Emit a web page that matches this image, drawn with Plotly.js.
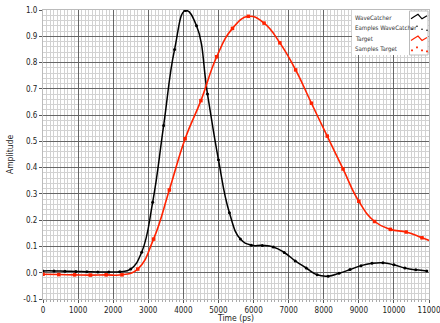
<!DOCTYPE html>
<html><head><meta charset="utf-8">
<script src="https://cdn.plot.ly/plotly-3.0.1.min.js"></script>
<style>html,body{margin:0;padding:0;background:#fff}#chart{width:440px;height:323px}</style>
</head><body><div id="chart"></div>
<script>
// WaveCatcher samples (ps, amplitude)
const wcTime = [0,312.5,625,937.5,1250,1562.5,1875,2187.5,2500,2812.5,3125,3437.5,3750,4062.5,4375,4687.5,5000,5312.5,5625,5937.5,6250,6562.5,6875,7187.5,7500,7812.5,8125,8437.5,8750,9062.5,9375,9687.5,10000,10312.5,10625,10937.5];
const wcAmp  = [0.007,0.007,0.006,0.005,0.004,0.003,0.003,0.004,0.014,0.078,0.268,0.56,0.85,0.998,0.94,0.68,0.43,0.228,0.128,0.105,0.104,0.098,0.077,0.045,0.018,-0.008,-0.013,-0.002,0.012,0.027,0.036,0.038,0.030,0.018,0.011,0.007];
// Target samples (ps, amplitude)
const tgTime = [0,450,900,1350,1800,2250,2700,3150,3600,4050,4500,4950,5400,5850,6300,6750,7200,7650,8100,8550,9000,9450,9900,10350,10800];
const tgAmp  = [-0.006,-0.007,-0.008,-0.009,-0.008,-0.008,0.014,0.128,0.315,0.51,0.655,0.822,0.93,0.976,0.95,0.875,0.772,0.645,0.52,0.395,0.272,0.195,0.165,0.155,0.133];
// end of the Target line at the right edge
const tgTailTime = [11000];
const tgTailAmp = [0.123];
// axis ticks
const xTicks = [0,1000,2000,3000,4000,5000,6000,7000,8000,9000,10000,11000];
const yTicks = [-0.1,0,0.1,0.2,0.3,0.4,0.5,0.6,0.7,0.8,0.9,1.0];
const legendNames = ['WaveCatcher','Eamples WaveCatcher','Target','Samples Target'];

const FONT = 'DejaVu Sans Condensed, DejaVu Sans, sans-serif';
const W = 440, H = 323, ML = 43, MR = 11, MT = 10, MB = 24;
const PW = W - ML - MR, PH = H - MT - MB;
const px = x => (x - ML) / PW;
const py = y => (H - MB - y) / PH;

const traces = [
  {x: wcTime, y: wcAmp, mode: 'lines', line: {color: '#000', width: 1.5, shape: 'spline', smoothing: 1.3}, hoverinfo: 'skip', showlegend: false},
  {x: wcTime, y: wcAmp, mode: 'markers', marker: {color: '#000', size: 3, symbol: 'circle'}, showlegend: false},
  {x: tgTime.concat(tgTailTime), y: tgAmp.concat(tgTailAmp), mode: 'lines', line: {color: '#ff2200', width: 1.6, shape: 'spline', smoothing: 1.3}, showlegend: false},
  {x: tgTime, y: tgAmp, mode: 'markers', marker: {color: '#ff2200', size: 3.5, symbol: 'square'}, showlegend: false}
];

// legend (text left, icon right)
const shapes = [];
const annotations = [];
const lx0 = 352, lx1 = 428, ly0 = 10, ly1 = 55, ix0 = 409.5;
shapes.push({type: 'rect', xref: 'paper', yref: 'paper', x0: px(lx0), x1: px(ix0), y0: py(ly1), y1: py(ly0), fillcolor: '#fff', line: {width: 0}});
shapes.push({type: 'rect', xref: 'paper', yref: 'paper', x0: px(ix0), x1: px(lx1), y0: py(ly1), y1: py(ly0 + 1), fillcolor: '#fff', line: {color: '#bbb', width: 1}});
const rowY = [17.3, 28.3, 39, 49.3];
legendNames.forEach((n, i) => {
  annotations.push({xref: 'paper', yref: 'paper', x: px(lx0 + 1), y: py(rowY[i]), xanchor: 'left', yanchor: 'middle', text: n, showarrow: false, font: {family: FONT, size: 6.1, color: '#333'}});
});
function wavePath(cy) {
  const pts = [[411, cy + 1.5], [414, cy - 0.5], [418, cy - 3], [422, cy + 1.5], [427, cy - 1.5]];
  return 'M ' + pts.map(p => px(p[0]) + ',' + py(p[1])).join(' L ');
}
shapes.push({type: 'path', xref: 'paper', yref: 'paper', path: wavePath(rowY[0]), line: {color: '#000', width: 1.2}});
shapes.push({type: 'path', xref: 'paper', yref: 'paper', path: wavePath(rowY[2]), line: {color: '#ff2200', width: 1.2}});
function dots(cy, color, sq) {
  [[412, cy + 1], [417, cy - 2], [422, cy + 1], [427, cy + 2]].forEach(p => {
    const r = sq ? 0.9 : 0.8;
    shapes.push({type: sq ? 'rect' : 'circle', xref: 'paper', yref: 'paper', x0: px(p[0] - r), x1: px(p[0] + r), y0: py(p[1] + r), y1: py(p[1] - r), fillcolor: color, line: {width: 0}});
  });
}
dots(rowY[1], '#000', false);
dots(rowY[3], '#ff2200', true);

const layout = {
  width: W, height: H,
  margin: {l: ML, r: MR, t: MT, b: MB, pad: 0},
  paper_bgcolor: '#fff', plot_bgcolor: '#fff',
  font: {family: FONT, size: 8, color: '#222'},
  showlegend: false,
  xaxis: {
    range: [0, 11000], tickvals: xTicks, ticktext: xTicks.map(String),
    ticks: 'outside', ticklen: 3, tickcolor: '#555', ticklabeloverflow: 'allow',
    showgrid: true, gridcolor: '#666', gridwidth: 1,
    minor: {dtick: 100, showgrid: true, gridcolor: '#d2d2d2', ticks: 'outside', ticklen: 2, tickcolor: '#aaa'},
    showline: true, linecolor: '#bbb', mirror: true, zeroline: false,
    title: {text: 'Time (ps)', font: {family: FONT, size: 8.5}, standoff: 2},
    tickfont: {family: FONT, size: 8}, automargin: false
  },
  yaxis: {
    range: [-0.1, 1.0], tickvals: yTicks, ticktext: yTicks.map(v => v.toFixed(1)),
    ticks: 'outside', ticklen: 3, tickcolor: '#555',
    showgrid: true, gridcolor: '#666', gridwidth: 1,
    minor: {dtick: 0.02, showgrid: true, gridcolor: '#d2d2d2'},
    showline: true, linecolor: '#bbb', mirror: true, zeroline: false,
    title: {text: 'Amplitude', font: {family: FONT, size: 8.5}, standoff: 8},
    tickfont: {family: FONT, size: 8}, automargin: false
  },
  shapes: shapes, annotations: annotations
};
Plotly.newPlot('chart', traces, layout, {displayModeBar: false, staticPlot: true});
</script></body></html>
